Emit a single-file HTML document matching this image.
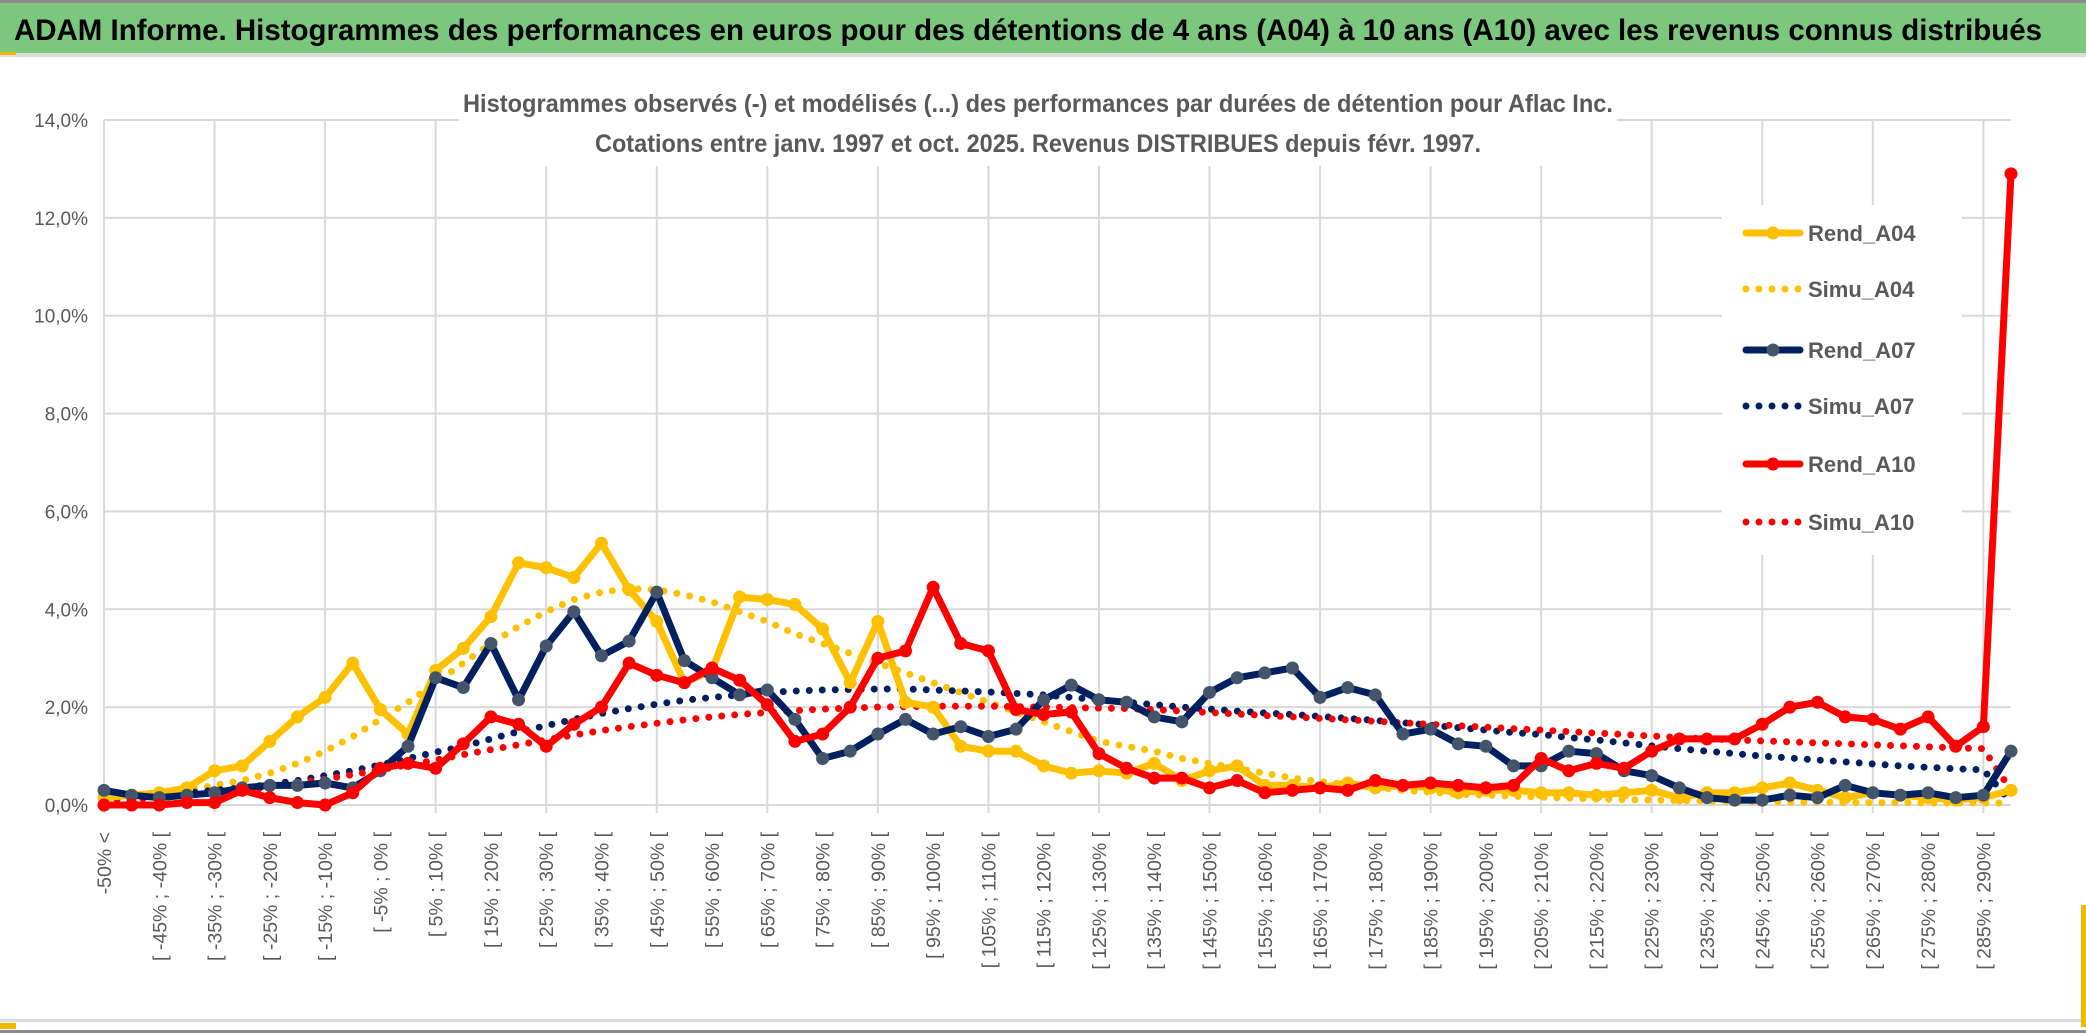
<!DOCTYPE html>
<html><head><meta charset="utf-8"><style>
html,body{margin:0;padding:0;background:#fff;}
svg{display:block;font-family:"Liberation Sans",sans-serif;}
</style></head><body>
<svg id="chart" width="2086" height="1033" viewBox="0 0 2086 1033" xmlns="http://www.w3.org/2000/svg">
<rect x="0" y="0" width="2086" height="1033" fill="#fff"/>
<rect x="0" y="0" width="2086" height="3" fill="#8a8a8a"/>
<rect x="0" y="3" width="2086" height="50" fill="#7cc77e"/>
<rect x="0" y="53" width="2086" height="4" fill="#dcdcdc"/>
<rect x="0" y="52" width="16" height="3" fill="#f5b800"/>
<text x="14" y="40" font-size="30" font-weight="bold" fill="#000" textLength="2028" lengthAdjust="spacingAndGlyphs">ADAM Informe. Histogrammes des performances en euros pour des détentions de 4 ans (A04) à 10 ans (A10) avec les revenus connus distribués</text>
<g id="grid"></g>
<g id="yaxis"></g>
<g id="xaxis"></g>
<g id="series"></g>
<rect x="459" y="80" width="1158" height="86" fill="#fff"/>
<text x="1038" y="112" font-size="25" font-weight="bold" fill="#595959" text-anchor="middle" textLength="1150" lengthAdjust="spacingAndGlyphs">Histogrammes observés (-) et modélisés (...) des performances par durées de détention pour Aflac Inc.</text>
<text x="1038" y="152" font-size="25" font-weight="bold" fill="#595959" text-anchor="middle" textLength="886" lengthAdjust="spacingAndGlyphs">Cotations entre janv. 1997 et oct. 2025. Revenus DISTRIBUES depuis févr. 1997.</text>
<g id="legend"></g>
<rect x="0" y="1019" width="2086" height="3" fill="#dcdcdc"/>
<rect x="0" y="1023" width="16" height="6" fill="#f5b800"/>
<rect x="0" y="1030" width="2086" height="3" fill="#8a8a8a"/>
<rect x="2081" y="905" width="5" height="122" fill="#f5b800"/>
</svg>
<script>
const rendA04 = [0.15,0.2,0.25,0.35,0.7,0.8,1.3,1.8,2.2,2.9,1.95,1.45,2.75,3.2,3.85,4.95,4.85,4.65,5.35,4.4,3.75,2.5,2.75,4.25,4.2,4.1,3.6,2.5,3.75,2.1,2.0,1.2,1.1,1.1,0.8,0.65,0.7,0.65,0.85,0.5,0.7,0.8,0.4,0.4,0.35,0.45,0.35,0.4,0.35,0.25,0.3,0.3,0.25,0.25,0.2,0.25,0.3,0.15,0.25,0.25,0.35,0.45,0.3,0.15,0.25,0.2,0.15,0.1,0.15,0.3];
const simuA04 = [0.15,0.2,0.25,0.3,0.4,0.5,0.65,0.85,1.1,1.4,1.75,2.1,2.5,2.9,3.3,3.65,3.95,4.2,4.35,4.42,4.4,4.3,4.15,3.95,3.75,3.5,3.3,3.1,2.9,2.7,2.5,2.3,2.1,1.9,1.7,1.5,1.3,1.2,1.1,0.95,0.85,0.75,0.65,0.55,0.48,0.42,0.36,0.3,0.26,0.22,0.2,0.18,0.16,0.14,0.12,0.11,0.1,0.09,0.08,0.07,0.07,0.06,0.06,0.05,0.05,0.05,0.04,0.04,0.04,0.04];
const rendA07 = [0.3,0.2,0.15,0.2,0.25,0.35,0.4,0.4,0.45,0.35,0.7,1.2,2.6,2.4,3.3,2.15,3.25,3.95,3.05,3.35,4.35,2.95,2.6,2.25,2.35,1.75,0.95,1.1,1.45,1.75,1.45,1.6,1.4,1.55,2.15,2.45,2.15,2.1,1.8,1.7,2.3,2.6,2.7,2.8,2.2,2.4,2.25,1.45,1.55,1.25,1.2,0.8,0.8,1.1,1.05,0.7,0.6,0.35,0.15,0.1,0.1,0.2,0.15,0.4,0.25,0.2,0.25,0.15,0.2,1.1];
const simuA07 = [0.15,0.18,0.2,0.25,0.3,0.35,0.42,0.5,0.6,0.7,0.82,0.95,1.08,1.2,1.35,1.5,1.62,1.75,1.87,1.97,2.06,2.14,2.2,2.25,2.3,2.33,2.35,2.36,2.37,2.37,2.35,2.33,2.31,2.28,2.25,2.2,2.15,2.1,2.05,2.0,1.96,1.92,1.88,1.85,1.81,1.77,1.73,1.68,1.63,1.58,1.53,1.48,1.44,1.38,1.33,1.27,1.21,1.15,1.1,1.05,1.0,0.96,0.92,0.88,0.84,0.8,0.77,0.74,0.72,0.05];
const rendA10 = [0.0,0.0,0.0,0.05,0.05,0.3,0.15,0.05,0.0,0.25,0.75,0.85,0.75,1.25,1.8,1.65,1.2,1.65,2.0,2.9,2.65,2.5,2.8,2.55,2.05,1.3,1.45,2.0,3.0,3.15,4.45,3.3,3.15,1.95,1.85,1.9,1.05,0.75,0.55,0.55,0.35,0.5,0.25,0.3,0.35,0.3,0.5,0.4,0.45,0.4,0.35,0.4,0.95,0.7,0.85,0.75,1.1,1.35,1.35,1.35,1.65,2.0,2.1,1.8,1.75,1.55,1.8,1.2,1.6,12.9];
const simuA10 = [0.1,0.12,0.15,0.2,0.25,0.3,0.37,0.45,0.53,0.62,0.72,0.82,0.92,1.03,1.13,1.23,1.33,1.43,1.52,1.6,1.67,1.74,1.8,1.85,1.89,1.93,1.96,1.98,2.0,2.01,2.02,2.02,2.02,2.01,2.0,1.99,1.98,1.97,1.95,1.92,1.89,1.86,1.83,1.8,1.77,1.74,1.71,1.68,1.65,1.62,1.59,1.56,1.53,1.5,1.47,1.44,1.41,1.38,1.35,1.33,1.31,1.29,1.27,1.25,1.23,1.21,1.19,1.17,1.15,0.3];
const yTicks = [0,2,4,6,8,10,12,14];
const yTickLabels = ["0,0%","2,0%","4,0%","6,0%","8,0%","10,0%","12,0%","14,0%"];
const categories = ["-50% <"];
for (let lo = -50; lo <= 290; lo += 5) categories.push("[ " + lo + "% ; " + (lo + 5) + "% [");

const NS = "http://www.w3.org/2000/svg";
const X0 = 104, X1 = 2011, Y0 = 805, YTOP = 120;
const xScale = i => X0 + (X1 - X0) * i / (categories.length - 1);
const yScale = v => Y0 - (Y0 - YTOP) * v / 14;
function mk(tag, attrs, parent) {
  const e = document.createElementNS(NS, tag);
  for (const k in attrs) e.setAttribute(k, attrs[k]);
  parent.appendChild(e);
  return e;
}
const grid = document.getElementById('grid');
const yaxis = document.getElementById('yaxis');
const xaxis = document.getElementById('xaxis');
yTicks.forEach((t, k) => {
  const l = mk('line', {x1: X0, x2: X1, y1: yScale(t), y2: yScale(t), stroke: '#d9d9d9', 'stroke-width': 2}, grid);
  
  
  const tx = mk('text', {x: 88, y: yScale(t) + 7, 'font-size': 19, fill: '#595959', 'text-anchor': 'end'}, yaxis);
  tx.textContent = yTickLabels[k];
  
  
});
for (let i = 0; i < categories.length; i += 4) {
  const l = mk('line', {x1: xScale(i), x2: xScale(i), y1: YTOP, y2: Y0 + 8, stroke: '#d9d9d9', 'stroke-width': 2}, grid);
  
  
}
for (let i = 0; i < categories.length; i += 2) {
  const x = xScale(i) + 7, y = 832;
  const tx = mk('text', {x: x, y: y, 'font-size': 19.5, fill: '#595959', 'text-anchor': 'end', transform: 'rotate(-90 ' + x + ' ' + y + ')'}, xaxis);
  tx.textContent = categories[i];
  
  
}
const series = [
  {name: 'Simu_A04', data: simuA04, color: '#ffc000', dotted: true},
  {name: 'Simu_A07', data: simuA07, color: '#002060', dotted: true},
  {name: 'Simu_A10', data: simuA10, color: '#ff0000', dotted: true},
  {name: 'Rend_A04', data: rendA04, color: '#ffc000', marker: '#ffc000'},
  {name: 'Rend_A07', data: rendA07, color: '#002060', marker: '#44546a'},
  {name: 'Rend_A10', data: rendA10, color: '#ff0000', marker: '#ff0000'}
];
const sg = document.getElementById('series');
series.forEach(s => {
  const pts = s.data.map((v, i) => xScale(i).toFixed(1) + ',' + yScale(v).toFixed(1)).join(' ');
  const attrs = {points: pts, fill: 'none', stroke: s.color, 'stroke-width': 7, 'stroke-linejoin': 'round', 'stroke-linecap': 'round'};
  if (s.dotted) attrs['stroke-dasharray'] = '0 13';
  const pl = mk('polyline', attrs, sg);
  
  
  if (s.marker) {
    s.data.forEach((v, i) => {
      const c = mk('circle', {cx: xScale(i), cy: yScale(v), r: 6.5, fill: s.marker}, sg);
      
      
    });
  }
});
const lg = document.getElementById('legend');
const bg = mk('rect', {x: 1722, y: 205, width: 240, height: 350, fill: '#fff'}, lg);


const legendOrder = [
  {name: 'Rend_A04', color: '#ffc000', marker: '#ffc000'},
  {name: 'Simu_A04', color: '#ffc000', dotted: true},
  {name: 'Rend_A07', color: '#002060', marker: '#44546a'},
  {name: 'Simu_A07', color: '#002060', dotted: true},
  {name: 'Rend_A10', color: '#ff0000', marker: '#ff0000'},
  {name: 'Simu_A10', color: '#ff0000', dotted: true}
];
const legendY = [233, 289, 350, 406, 464, 522];
legendOrder.forEach((s, k) => {
  const y = legendY[k];
  const g = mk('g', {}, lg);
  
  
  const a = {x1: 1746, x2: 1800, y1: y, y2: y, stroke: s.color, 'stroke-width': 7, 'stroke-linecap': 'round'};
  if (s.dotted) a['stroke-dasharray'] = '0 13';
  mk('line', a, g);
  if (s.marker) mk('circle', {cx: 1773, cy: y, r: 6.5, fill: s.marker}, g);
  const t = mk('text', {x: 1808, y: y + 8, 'font-size': 22, 'font-weight': 'bold', fill: '#595959'}, g);
  t.textContent = s.name;
});
</script>
</body></html>
